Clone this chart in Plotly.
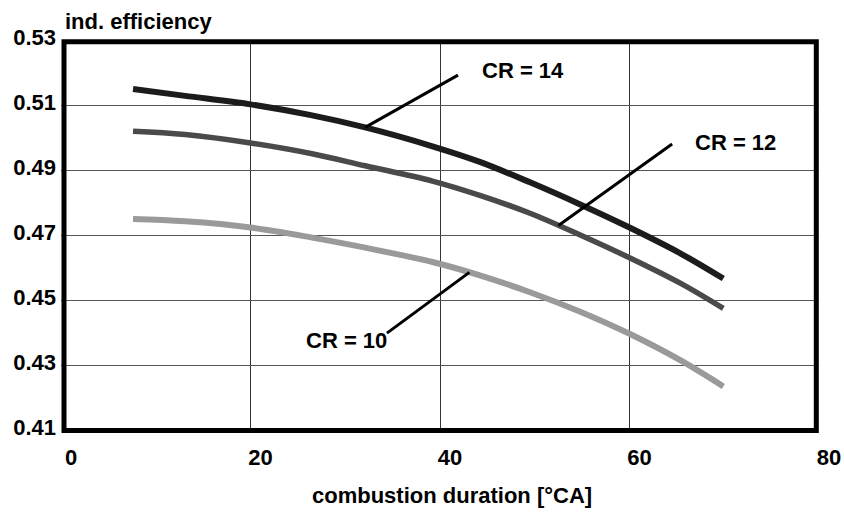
import numpy as np
import plotly.graph_objects as go

# Combustion duration [°CA] at which each efficiency value is given
duration = [7.6, 13.1, 20, 26.5, 32.1, 39.2, 44.2, 49.5, 54.8, 60, 65.4, 69.9]

# Indicated efficiency for three compression ratios
eff_cr14 = [0.5149, 0.5128, 0.5102, 0.5068, 0.5031, 0.4973, 0.4925, 0.4862,
            0.4794, 0.4723, 0.4643, 0.4566]
eff_cr12 = [0.5019, 0.5009, 0.4983, 0.4950, 0.4913, 0.4866, 0.4822, 0.4767,
            0.4700, 0.4630, 0.4551, 0.4474]
eff_cr10 = [0.4749, 0.4742, 0.4723, 0.4692, 0.4661, 0.4617, 0.4576, 0.4524,
            0.4464, 0.4396, 0.4314, 0.4234]

x_ticks = [0, 20, 40, 60, 80]
y_ticks = [0.41, 0.43, 0.45, 0.47, 0.49, 0.51, 0.53]
y_tick_text = ["0.41", "0.43", "0.45", "0.47", "0.49", "0.51", "0.53"]

# Curve label text, label anchor, leader start and the duration where the leader meets the curve
labels = [
    ("CR = 14", eff_cr14, (44.2, 0.5206), (41.9, 0.5192), 32.1),
    ("CR = 12", eff_cr12, (66.7, 0.4986), (64.5, 0.4980), 52.5),
    ("CR = 10", eff_cr10, (25.6, 0.4375), (34.4, 0.4398), 43.1),
]

styles = [
    (eff_cr14, "#1c1c1c", 6),
    (eff_cr12, "#4a4a4a", 5.5),
    (eff_cr10, "#9a9a9a", 6),
]

FONT = "Liberation Sans, Arial, Helvetica, sans-serif"
W, H = 844, 512
M = dict(l=61, r=25, t=40, b=82)
PW = W - M["l"] - M["r"]
PH = H - M["t"] - M["b"]

fig = go.Figure()
for y, color, width in styles:
    fig.add_trace(go.Scatter(
        x=duration, y=y, mode="lines",
        line=dict(color=color, width=width, shape="spline", smoothing=1.0),
        showlegend=False, hoverinfo="skip",
    ))

for text, curve, (lx, ly), (sx, sy), ex in labels:
    ey = float(np.interp(ex, duration, curve))
    fig.add_shape(type="line", xref="x", yref="y", x0=sx, y0=sy, x1=ex, y1=ey,
                  line=dict(color="black", width=3))
    fig.add_annotation(x=lx, y=ly, xref="x", yref="y", text=text, showarrow=False,
                       xanchor="left", yanchor="middle",
                       font=dict(family=FONT, size=22, color="black", weight="bold"))

# Heavy frame around the plotting area
fig.add_shape(type="rect", xref="paper", yref="paper",
              x0=3.0 / PW, x1=1 - 2.7 / PW, y0=-0.5 / PH, y1=1 - 1.7 / PH,
              line=dict(color="black", width=5), fillcolor="rgba(0,0,0,0)")

fig.add_annotation(x=2 / PW, y=1 + 18 / PH, xref="paper", yref="paper",
                   text="ind. efficiency", showarrow=False,
                   xanchor="left", yanchor="middle",
                   font=dict(family=FONT, size=22, color="black", weight="bold"))
fig.add_annotation(x=(452 - M["l"]) / PW, y=-(495 - M["t"] - PH) / PH, xref="paper", yref="paper",
                   text="combustion duration [°CA]", showarrow=False,
                   xanchor="center", yanchor="middle",
                   font=dict(family=FONT, size=22, color="black", weight="bold"))

fig.update_xaxes(
    range=[0, 80], tickvals=x_ticks, ticktext=[str(v) for v in x_ticks],
    showgrid=True, gridcolor="#333333", gridwidth=1, zeroline=False,
    showline=False, ticks="", ticklabelshift=10, ticklabelstandoff=12,
    tickfont=dict(family=FONT, size=22, color="black", weight="bold"),
    automargin=False,
)
fig.update_yaxes(
    range=[0.41, 0.53], tickvals=y_ticks, ticktext=y_tick_text,
    showgrid=True, gridcolor="#555555", gridwidth=1, zeroline=False,
    showline=False, ticks="", ticklabelshift=-3, ticklabelstandoff=4,
    tickfont=dict(family=FONT, size=22, color="black", weight="bold"),
    automargin=False,
)

fig.update_layout(
    width=W, height=H, margin=M,
    paper_bgcolor="white", plot_bgcolor="white",
    showlegend=False,
)

fig.write_html("out.html")
